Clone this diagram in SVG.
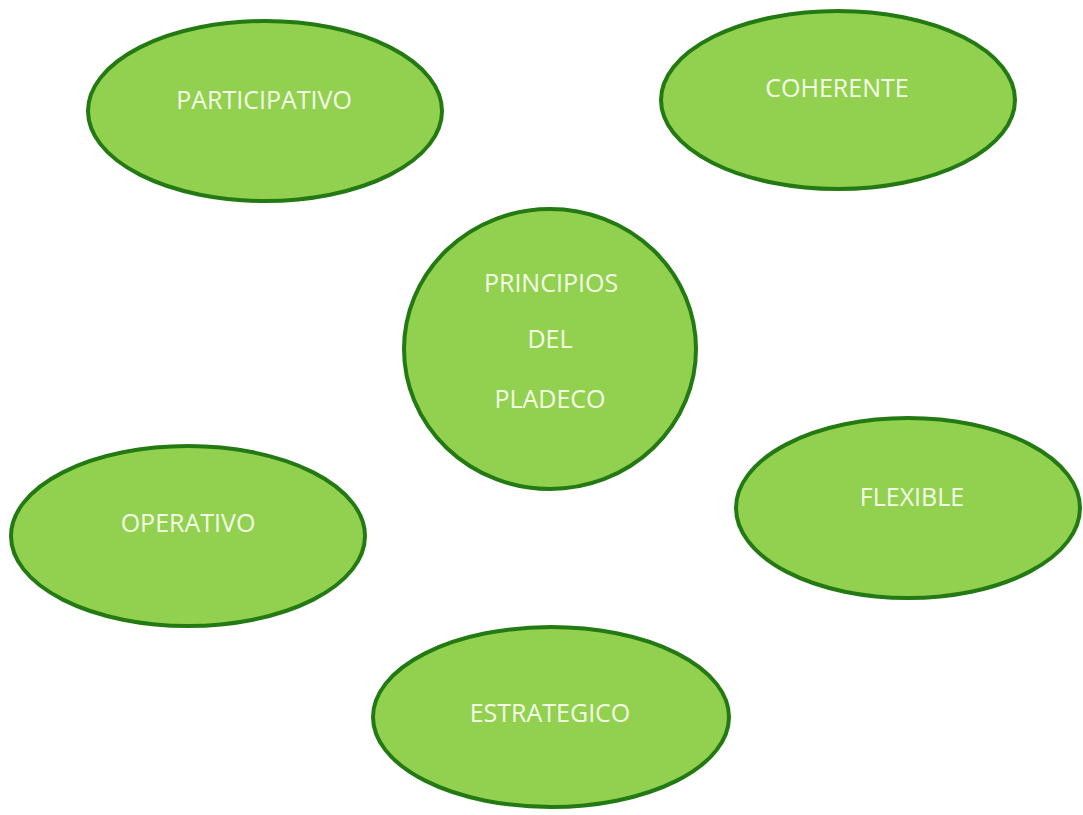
<svg xmlns="http://www.w3.org/2000/svg" width="1083" height="815" viewBox="0 0 1083 815">
<style>
.n{fill:#92D050;stroke:#237a12;stroke-width:4}
.t{font-family:"Open Sans","DejaVu Sans",sans-serif;font-size:25px;fill:#f4ffe6;text-anchor:middle}
</style>
<rect width="1083" height="815" fill="#fff"/>
<g id="participativo"><ellipse class="n" cx="265" cy="111" rx="177" ry="90"/><text class="t" x="264" y="109">PARTICIPATIVO</text></g>
<g id="coherente"><ellipse class="n" cx="838" cy="100" rx="177" ry="89"/><text class="t" x="837" y="97">COHERENTE</text></g>
<g id="principios"><ellipse class="n" cx="550" cy="349" rx="146" ry="140"/><text class="t" x="551" y="292">PRINCIPIOS</text><text class="t" x="550" y="348">DEL</text><text class="t" x="550" y="408">PLADECO</text></g>
<g id="operativo"><ellipse class="n" cx="188" cy="536" rx="177" ry="90"/><text class="t" x="188" y="532">OPERATIVO</text></g>
<g id="flexible"><ellipse class="n" cx="908" cy="508" rx="172" ry="90"/><text class="t" x="912" y="506">FLEXIBLE</text></g>
<g id="estrategico"><ellipse class="n" cx="551" cy="717" rx="178" ry="90"/><text class="t" x="550" y="722">ESTRATEGICO</text></g>
<g id="connectors"></g>
</svg>
